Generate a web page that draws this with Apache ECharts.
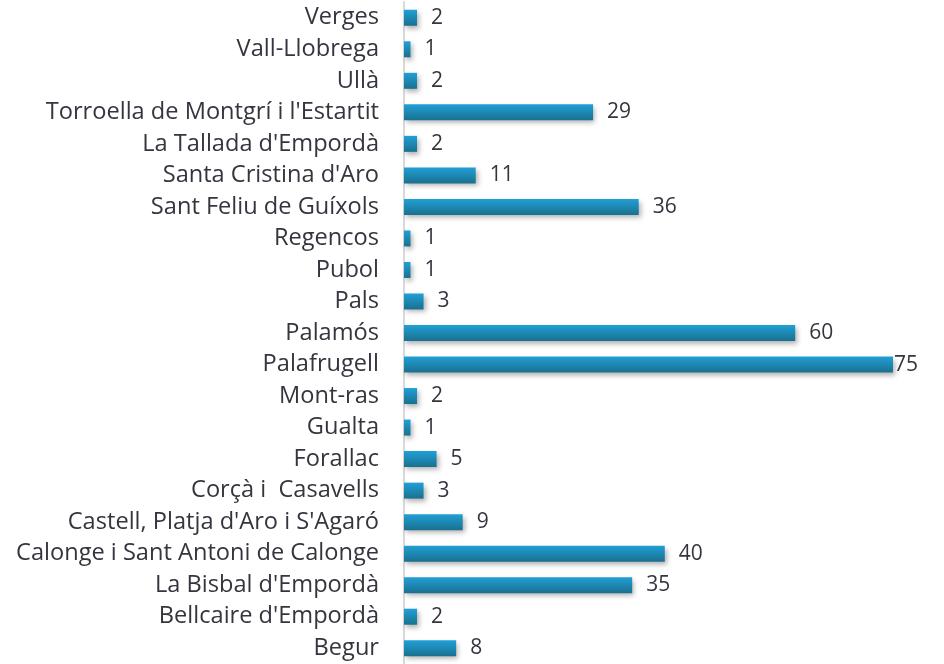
<!DOCTYPE html>
<html>
<head>
<meta charset="utf-8">
<script src="https://cdn.jsdelivr.net/npm/echarts@6/dist/echarts.min.js"></script>
<style>
	html, body { margin: 0; padding: 0; background: #fff; }
	#chart { width: 944px; height: 664px; }
</style>
</head>
<body>
<div id="chart"></div>
<script>
"use strict";

var municipis = ['Verges', 'Vall-Llobrega', 'Ullà', "Torroella de Montgrí i l'Estartit", "La Tallada d'Empordà",
	"Santa Cristina d'Aro", 'Sant Feliu de Guíxols', 'Regencos', 'Pubol', 'Pals', 'Palamós', 'Palafrugell',
	'Mont-ras', 'Gualta', 'Forallac', 'Corçà i  Casavells', "Castell, Platja d'Aro i S'Agaró",
	'Calonge i Sant Antoni de Calonge', "La Bisbal d'Empordà", "Bellcaire d'Empordà", 'Begur'];
var valors = [2, 1, 2, 29, 2, 11, 36, 1, 1, 3, 60, 75, 2, 1, 5, 3, 9, 40, 35, 2, 8];

var chart = echarts.init(document.getElementById('chart'));

var barColor = new echarts.graphic.LinearGradient(0, 0, 0, 1, [
	{ offset: 0, color: '#21a0d6' },
	{ offset: 1, color: '#19708f' }
]);

var dades = valors.map(function(v) {
	var item = { value: v };
	// the biggest bar's label sits right against its end
	if (v === 75) item.label = { distance: 1 };
	return item;
});

chart.setOption({
	animation: false,
	grid: {
		top: 2,
		bottom: -2,
		left: 404,
		right: 51
	},
	xAxis: {
		type: 'value',
		min: 0,
		max: 75,
		show: false
	},
	yAxis: {
		type: 'category',
		inverse: true,
		data: municipis,
		axisTick: { show: false },
		axisLine: { show: true, lineStyle: { color: '#d9d9d9', width: 2 } },
		axisLabel: {
			margin: 25,
			color: '#35353f',
			fontFamily: 'Open Sans',
			fontSize: 23.6
		}
	},
	series: [{
		type: 'bar',
		data: dades,
		barWidth: 16,
		itemStyle: {
			color: barColor,
			shadowColor: 'rgba(0,0,0,0.3)',
			shadowBlur: 5,
			shadowOffsetX: 2,
			shadowOffsetY: 3
		},
		label: {
			show: true,
			position: 'right',
			distance: 14,
			color: '#35353f',
			fontFamily: 'Open Sans',
			fontSize: 21
		}
	}]
});
</script>
</body>
</html>
